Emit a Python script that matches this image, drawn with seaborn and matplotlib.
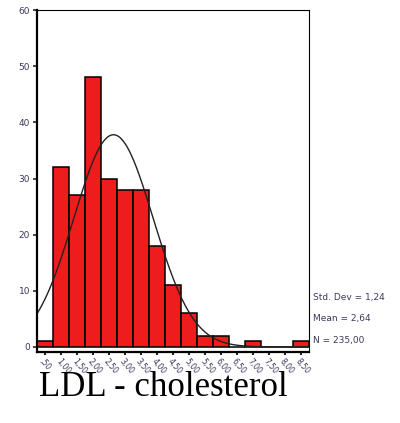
import numpy as np
import pandas as pd
import matplotlib
matplotlib.use('Agg')
import matplotlib.pyplot as plt
import seaborn as sns

# bin centres (mmol/l) and counts
bin_centers = [0.5, 1.0, 1.5, 2.0, 2.5, 3.0, 3.5, 4.0, 4.5, 5.0, 5.5, 6.0, 6.5, 7.0, 7.5, 8.0, 8.5]
counts = [1, 32, 27, 48, 30, 28, 28, 18, 11, 6, 2, 2, 0, 1, 0, 0, 1]
tick_labels = [',50', '1,00', '1,50', '2,00', '2,50', '3,00', '3,50', '4,00', '4,50',
               '5,00', '5,50', '6,00', '6,50', '7,00', '7,50', '8,00', '8,50']
std_dev = 1.24
mean = 2.64
n_total = 235
bin_width = 0.5

sns.set_style('white')
txt_col = '#3a3a5a'

fig = plt.figure(figsize=(4.0, 4.23), dpi=100)
ax = fig.add_axes([0.0925, 0.168, 0.68, 0.808])

df = pd.DataFrame({'x': bin_centers, 'n': counts})
sns.histplot(data=df, x='x', weights='n', binwidth=bin_width, binrange=(0.25, 8.75), ax=ax,
             color='#ee1c1c', edgecolor='black', linewidth=1.1, alpha=1)

# fitted normal curve
xs = np.linspace(0.25, 8.75, 300)
ys = n_total * bin_width / (std_dev * np.sqrt(2 * np.pi)) * np.exp(-0.5 * ((xs - mean) / std_dev) ** 2)
sns.lineplot(x=xs, y=ys, ax=ax, color='#222222', linewidth=1.0)

ax.set_xlim(0.25, 8.75)
ax.set_ylim(-0.9, 60)
ax.set_yticks([0, 10, 20, 30, 40, 50, 60])
ax.set_xticks(bin_centers)
ax.set_xticklabels(tick_labels, rotation=-50, ha='left', va='top',
                   rotation_mode='anchor', fontsize=5.6, color=txt_col)
ax.tick_params(axis='y', labelsize=6.5, labelcolor=txt_col, length=3, width=1.2,
               direction='out', left=True, pad=2)
ax.tick_params(axis='x', length=2.5, width=1.5, direction='out', bottom=True, pad=1)
ax.set_xlabel('')
ax.set_ylabel('')
for side in ['left', 'bottom', 'top', 'right']:
    ax.spines[side].set_visible(True)
    ax.spines[side].set_color('black')
ax.spines['left'].set_linewidth(1.6)
ax.spines['bottom'].set_linewidth(1.6)
ax.spines['top'].set_linewidth(0.8)
ax.spines['right'].set_linewidth(0.8)

fig.text(0.783, 0.297, 'Std. Dev = 1,24', fontsize=6.5, color=txt_col, va='center')
fig.text(0.783, 0.246, 'Mean = 2,64', fontsize=6.5, color=txt_col, va='center')
fig.text(0.783, 0.196, 'N = 235,00', fontsize=6.5, color=txt_col, va='center')

fig.text(0.098, 0.083, 'LDL - cholesterol', fontsize=25, family='Liberation Serif',
         color='black', va='center')

fig.savefig('out.png', dpi=100)
